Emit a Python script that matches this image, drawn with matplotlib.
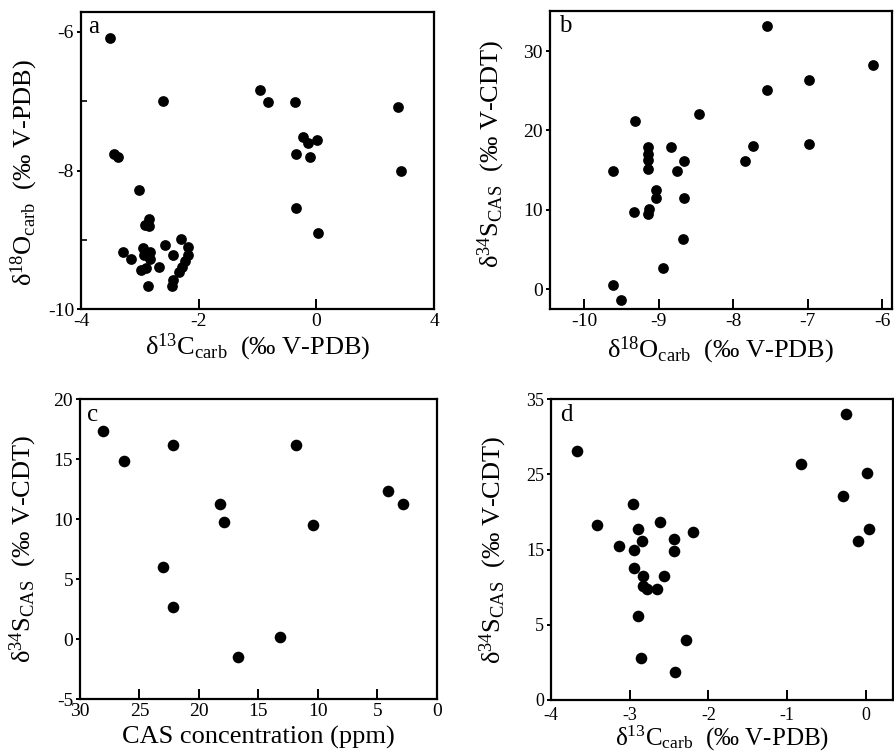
import numpy as np
import matplotlib
matplotlib.use("Agg")
import matplotlib.pyplot as plt

plt.rcParams['font.family'] = ['Liberation Serif', 'DejaVu Serif']
plt.rcParams['mathtext.fontset'] = 'custom'
plt.rcParams['mathtext.rm'] = 'Liberation Serif'
plt.rcParams['mathtext.it'] = 'Liberation Serif:italic'
plt.rcParams['mathtext.bf'] = 'Liberation Serif:bold'
plt.rcParams['axes.unicode_minus'] = False

# ---------------- data ----------------
# panel a: d13C_carb vs d18O_carb
a_c13 = [-3.50, -2.61, -0.96, -0.82, -0.37, 2.79, 2.88, -0.22, -0.14, 0.03,
         -0.34, -0.10, -0.34, 0.06, -3.44, -3.37, -3.01, -2.92, -2.85, -2.84,
         -3.28, -3.15, -2.95, -2.93, -2.82, -2.83, -2.98, -2.89, -2.68, -2.86,
         -2.58, -2.44, -2.30, -2.18, -2.18, -2.24, -2.29, -2.34, -2.43, -2.45]
a_o18 = [-6.09, -7.00, -6.84, -7.01, -7.01, -7.09, -8.00, -7.52, -7.60, -7.56,
         -7.76, -7.80, -8.54, -8.90, -7.76, -7.81, -8.28, -8.79, -8.70, -8.80,
         -9.18, -9.27, -9.12, -9.22, -9.17, -9.27, -9.44, -9.41, -9.39, -9.67,
         -9.08, -9.22, -8.99, -9.10, -9.22, -9.31, -9.39, -9.46, -9.58, -9.67]

# panel b: d18O_carb vs d34S_CAS
b_o18 = [-9.32, -8.46, -9.15, -9.15, -9.15, -9.15, -8.84, -8.66, -8.76, -9.61,
         -9.04, -9.04, -8.66, -9.33, -9.13, -9.14, -8.67, -8.95, -9.62, -9.51,
         -7.55, -6.12, -6.99, -7.55, -6.99, -7.74, -7.84]
b_s34 = [21.2, 22.1, 17.9, 17.1, 16.3, 15.2, 17.9, 16.2, 14.9, 14.9,
         12.5, 11.5, 11.5, 9.7, 10.1, 9.5, 6.3, 2.7, 0.6, -1.4,
         33.1, 28.2, 26.35, 25.1, 18.3, 18.1, 16.2]

# panel c: CAS concentration vs d34S_CAS
c_cas = [28.1, 26.3, 22.2, 11.8, 18.2, 17.9, 10.4, 4.1, 2.8, 23.0, 22.2, 16.7, 13.2]
c_s34 = [17.4, 14.9, 16.2, 16.2, 11.3, 9.8, 9.55, 12.4, 11.3, 6.0, 2.7, -1.45, 0.2]

# panel d: d13C_carb vs d34S_CAS (values as read against the printed axis labels)
d_c13 = [-0.25, -3.67, -0.82, 0.02, -0.29, -2.96, -3.42, -2.61, -2.89, -2.19,
         0.04, -0.10, -2.84, -2.44, -3.14, -2.95, -2.44, -2.95, -2.83, -2.57,
         -2.83, -2.78, -2.66, -2.89, -2.28, -2.86, -2.42]
d_s34 = [33.1, 28.1, 26.4, 25.2, 22.1, 21.1, 18.3, 18.7, 17.8, 17.4,
         17.8, 16.2, 16.2, 16.4, 15.5, 15.0, 14.8, 12.6, 11.5, 11.5,
         10.1, 9.7, 9.7, 6.2, 3.96, 2.8, 1.85]

a_xticks = [-4, -2, 0, 4]
a_yticks = [-10, -8, -6]
b_xticks = [-10, -9, -8, -7, -6]
b_yticks = [0, 10, 20, 30]
c_xticks = [30, 25, 20, 15, 10, 5, 0]
c_yticks = [-5, 0, 5, 10, 15, 20]
d_xticks = [-4, -3, -2, -1, 0]
d_yticks = [0, 5, 15, 25, 35]

# ---------------- piecewise scales (as printed on the original axes) ----------------
def a_fwd(x):
    x = np.asarray(x, dtype=float)
    return np.where(x > 0, x / 2.0, x)

def a_inv(d):
    d = np.asarray(d, dtype=float)
    return np.where(d > 0, d * 2.0, d)

def d_fwd(v):
    v = np.asarray(v, dtype=float)
    return np.where(v < 5, 2.0 * v - 5.0, v)

def d_inv(d):
    d = np.asarray(d, dtype=float)
    return np.where(d < 5, (d + 5.0) / 2.0, d)

W, H = 894, 752
fig = plt.figure(figsize=(W / 100, H / 100), dpi=100)

def add_ax(l, r, t, b):
    return fig.add_axes([l / W, 1 - b / H, (r - l) / W, (b - t) / H])

axa = add_ax(81, 434, 11.7, 309.3)
axb = add_ax(550, 892, 11, 309.3)
axc = add_ax(80, 436.7, 399.3, 699.3)
axd = add_ax(551.3, 893, 399.3, 700)

lab_fs = 19
tick_fs = 14

def style(ax, fs=tick_fs):
    for s in ax.spines.values():
        s.set_linewidth(1.6)
    ax.tick_params(axis='x', direction='in', length=7, width=1.4, labelsize=fs, pad=3)
    ax.tick_params(axis='y', direction='out', length=3, width=1.4, labelsize=fs, pad=2)
    ax.tick_params(axis='y', which='minor', direction='in', length=4, width=1.2)

LBL_C13 = 'δ$^{13}$C$_{\\mathrm{carb}}$  (‰ V-PDB)'
LBL_O18 = 'δ$^{18}$O$_{\\mathrm{carb}}$  (‰ V-PDB)'
LBL_S34 = 'δ$^{34}$S$_{\\mathrm{CAS}}$  (‰ V-CDT)'

# panel a
axa.set_xscale('function', functions=(a_fwd, a_inv))
axa.scatter(a_c13, a_o18, s=60, color='black', zorder=3, linewidths=0)
axa.set_xlim(-4, 4)
axa.set_ylim(-10, -5.71)
axa.set_xticks(a_xticks)
axa.set_xticklabels([str(t) for t in a_xticks])
axa.set_yticks(a_yticks)
axa.set_yticks([-9, -7], minor=True)
axa.xaxis.set_minor_locator(matplotlib.ticker.NullLocator())
style(axa)
axa.set_xlabel(LBL_C13, fontsize=lab_fs)
axa.set_ylabel(LBL_O18, fontsize=lab_fs)
axa.xaxis.set_label_coords(0.5, -0.075)
axa.yaxis.set_label_coords(-0.115, 0.46)
axa.text(0.02, 0.985, 'a', transform=axa.transAxes, fontsize=18, va='top', ha='left')

# panel b
axb.scatter(b_o18, b_s34, s=60, color='black', zorder=3, linewidths=0)
axb.set_xlim(-10.46, -5.87)
axb.set_ylim(-2.52, 35.05)
axb.set_xticks(b_xticks)
axb.set_yticks(b_yticks)
style(axb)
axb.set_xlabel(LBL_O18, fontsize=lab_fs)
axb.set_ylabel(LBL_S34, fontsize=lab_fs)
axb.xaxis.set_label_coords(0.5, -0.085)
axb.yaxis.set_label_coords(-0.125, 0.52)
axb.text(0.025, 0.985, 'b', transform=axb.transAxes, fontsize=18, va='top', ha='left')

# panel c
axc.scatter(c_cas, c_s34, s=70, color='black', zorder=3, linewidths=0)
axc.set_xlim(30, 0)
axc.set_ylim(-5, 20)
axc.set_xticks(c_xticks)
axc.set_yticks(c_yticks)
style(axc)
axc.set_xlabel('CAS concentration (ppm)', fontsize=lab_fs)
axc.set_ylabel(LBL_S34, fontsize=lab_fs)
axc.xaxis.set_label_coords(0.5, -0.09)
axc.yaxis.set_label_coords(-0.115, 0.5)
axc.text(0.02, 0.985, 'c', transform=axc.transAxes, fontsize=18, va='top', ha='left')

# panel d
axd.set_yscale('function', functions=(d_fwd, d_inv))
axd.scatter(d_c13, d_s34, s=70, color='black', zorder=3, linewidths=0)
axd.set_xlim(-4, 0.35)
axd.set_ylim(0, 35)
axd.set_xticks(d_xticks)
axd.set_yticks(d_yticks)
axd.set_yticklabels([str(t) for t in d_yticks])
axd.yaxis.set_minor_locator(matplotlib.ticker.NullLocator())
style(axd, fs=13)
axd.tick_params(axis='x', pad=5)
axd.set_xlabel(LBL_C13, fontsize=18)
axd.set_ylabel(LBL_S34, fontsize=lab_fs)
axd.xaxis.set_label_coords(0.5, -0.078)
axd.yaxis.set_label_coords(-0.125, 0.5)
axd.text(0.025, 0.985, 'd', transform=axd.transAxes, fontsize=18, va='top', ha='left')

fig.savefig('out.png', dpi=100)
